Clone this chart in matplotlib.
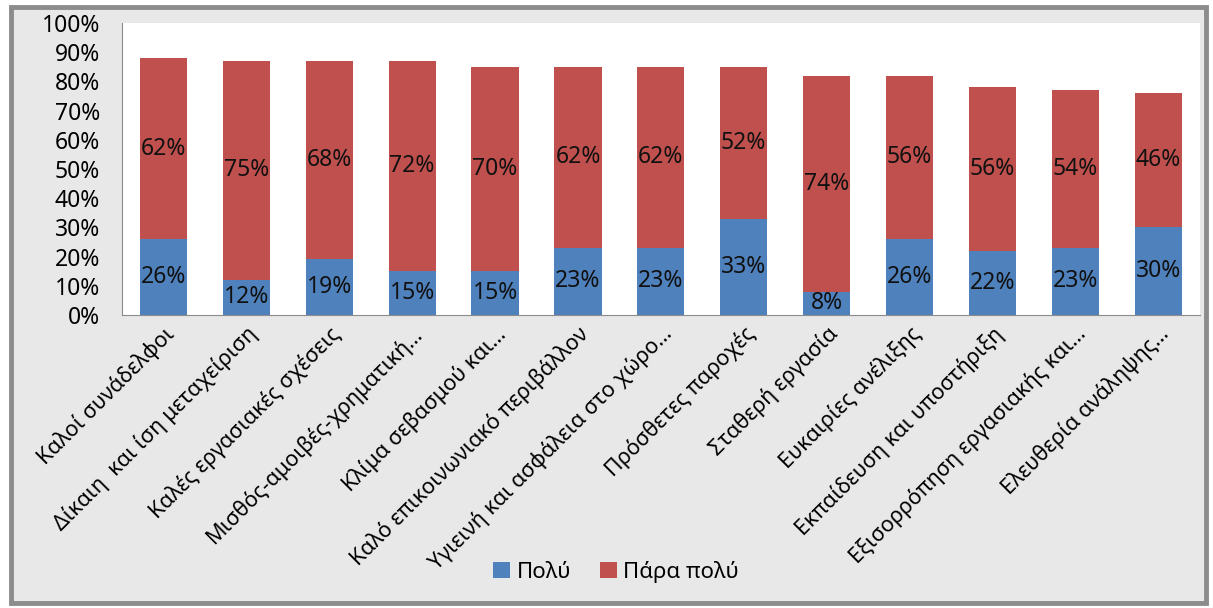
import numpy as np
import matplotlib.pyplot as plt
from matplotlib.patches import Rectangle
from matplotlib.ticker import PercentFormatter

plt.rcParams['font.family'] = ['Noto Sans', 'DejaVu Sans']

# Κατηγορίες και τιμές (%)
categories = ['Καλοί συνάδελφοι', 'Δίκαιη  και ίση μεταχείριση', 'Καλές εργασιακές σχέσεις',
              'Μισθός-αμοιβές-χρηματική...', 'Κλίμα σεβασμού και...', 'Καλό επικοινωνιακό περιβάλλον',
              'Υγιεινή και ασφάλεια στο χώρο...', 'Πρόσθετες παροχές', 'Σταθερή εργασία',
              'Ευκαιρίες ανέλιξης', 'Εκπαίδευση και υποστήριξη', 'Εξισορρόπηση εργασιακής και...',
              'Ελευθερία ανάληψης...']
polu = [26, 12, 19, 15, 15, 23, 23, 33, 8, 26, 22, 23, 30]
para_polu = [62, 75, 68, 72, 70, 62, 62, 52, 74, 56, 56, 54, 46]

blue = '#4f81bd'
red = '#c0504d'

fig = plt.figure(figsize=(12.13, 6.08), dpi=100, facecolor='white')
# γκρι πλαίσιο με σκιά
frame = Rectangle((0.009, 0.008), 0.985, 0.98, transform=fig.transFigure,
                  facecolor='#e8e8e8', edgecolor='#8c8c8c', linewidth=3.5, zorder=-10)
fig.add_artist(frame)
ax = fig.add_axes([0.1006, 0.482, 0.8884, 0.48])
ax.set_facecolor('white')

x = np.arange(len(categories))
b1 = ax.bar(x, polu, width=0.57, color=blue, label='Πολύ')
b2 = ax.bar(x, para_polu, width=0.57, bottom=polu, color=red, label='Πάρα πολύ')

for rect, v in zip(b1, polu):
    ax.text(rect.get_x() + rect.get_width() / 2, rect.get_y() + rect.get_height() / 2, f'{v}%',
            ha='center', va='center', fontsize=16.5, color='#111111')
for rect, v in zip(b2, para_polu):
    ax.text(rect.get_x() + rect.get_width() / 2, rect.get_y() + rect.get_height() / 2, f'{v}%',
            ha='center', va='center', fontsize=16.5, color='#111111')

ax.set_xlim(-0.5, len(categories) - 0.5)
ax.set_ylim(0, 100)
ax.set_yticks(np.arange(0, 101, 10))
ax.yaxis.set_major_formatter(PercentFormatter(decimals=0))
ax.tick_params(axis='y', length=0, labelsize=16.5, pad=16)
ax.tick_params(axis='x', length=0, labelsize=15.5, pad=6)
ax.set_xticks(x)
ax.set_xticklabels(categories, rotation=45, ha='right', rotation_mode='anchor')
for s in ['top', 'right']:
    ax.spines[s].set_visible(False)
for s in ['left', 'bottom']:
    ax.spines[s].set_color('#8c8c8c')

ax.legend(loc='center', bbox_to_anchor=(0.508, 0.06), bbox_transform=fig.transFigure, ncol=2,
          frameon=False, fontsize=16, handlelength=0.75, handleheight=0.75, handletextpad=0.3,
          columnspacing=1.3)

fig.savefig('out.png', dpi=100, facecolor=fig.get_facecolor())
